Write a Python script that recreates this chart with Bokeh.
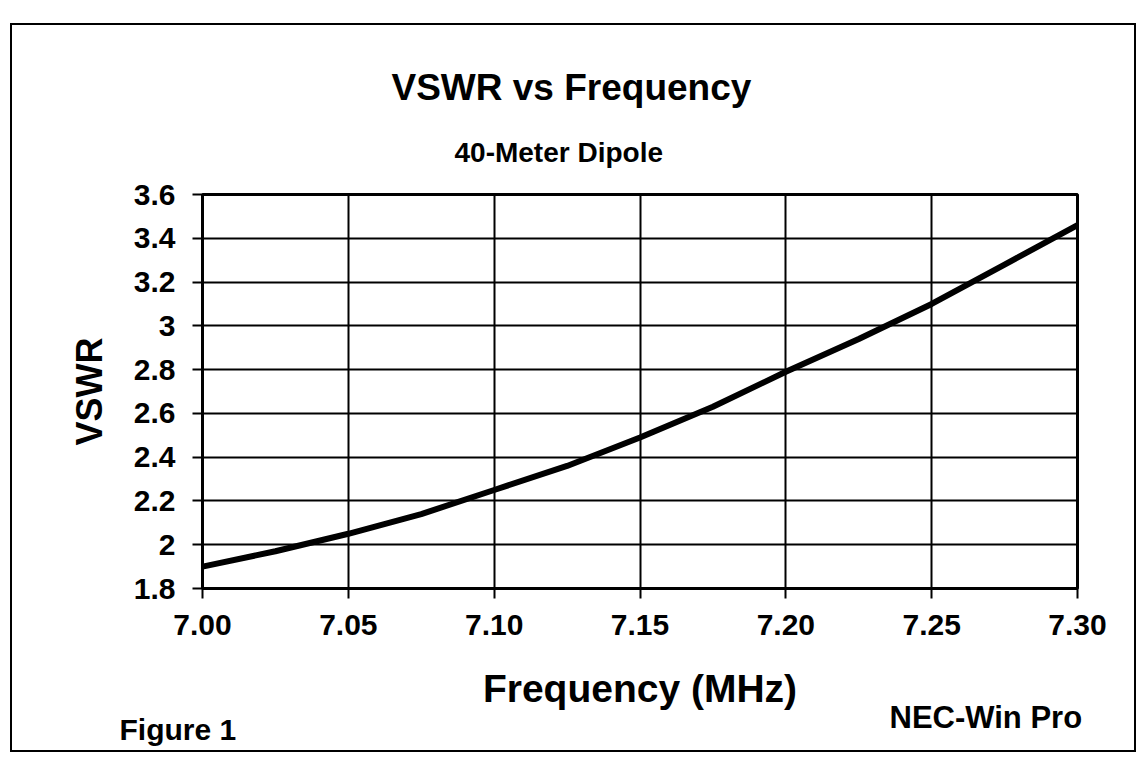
from bokeh.plotting import figure
from bokeh.models import Range1d, FixedTicker, Title
from bokeh.embed import file_html
from bokeh.resources import INLINE

# ---- data ----
freq_mhz = [7.000, 7.025, 7.050, 7.075, 7.100, 7.125, 7.150, 7.175, 7.200, 7.225, 7.250, 7.275, 7.300]
vswr = [1.90, 1.97, 2.05, 2.14, 2.25, 2.36, 2.49, 2.63, 2.79, 2.94, 3.10, 3.28, 3.46]

x_ticks = [7.00, 7.05, 7.10, 7.15, 7.20, 7.25, 7.30]
x_tick_labels = ["7.00", "7.05", "7.10", "7.15", "7.20", "7.25", "7.30"]
y_ticks = [1.8, 2.0, 2.2, 2.4, 2.6, 2.8, 3.0, 3.2, 3.4, 3.6]
y_tick_labels = ["1.8", "2", "2.2", "2.4", "2.6", "2.8", "3", "3.2", "3.4", "3.6"]

title_text = "VSWR vs Frequency"
subtitle_text = "40-Meter Dipole"
x_label = "Frequency (MHz)"
y_label = "VSWR"
note_right = "NEC-Win Pro"
note_left = "Figure 1"

# ---- layout ----
W, H = 1126, 729
FL, FR, FT, FB = 190, 1065, 169, 563  # frame edges in canvas px
FONT = "Liberation Sans"

p = figure(width=W, height=H, output_backend="svg", toolbar_location=None,
           x_range=Range1d(7.0, 7.3), y_range=Range1d(1.8, 3.6),
           min_border_left=FL, min_border_right=W - FR,
           min_border_top=FT, min_border_bottom=H - FB)
p.styles = {"border": "2px solid black", "margin-left": "10px", "margin-top": "23px"}
p.background_fill_color = "white"
p.border_fill_color = "white"
p.outline_line_color = "black"
p.outline_line_width = 3

# axes
p.xaxis.ticker = FixedTicker(ticks=x_ticks)
p.yaxis.ticker = FixedTicker(ticks=y_ticks)
p.xaxis.major_label_overrides = dict(zip(x_ticks, x_tick_labels))
p.yaxis.major_label_overrides = dict(zip(y_ticks, y_tick_labels))
for ax in (p.xaxis, p.yaxis):
    ax.axis_line_color = "black"
    ax.axis_line_width = 2
    ax.major_tick_line_color = "black"
    ax.major_tick_line_width = 2
    ax.major_tick_in = 0
    ax.major_tick_out = 10
    ax.minor_tick_line_color = None
    ax.major_label_text_font = FONT
    ax.major_label_text_font_style = "bold"
    ax.major_label_text_font_size = "30px"
    ax.major_label_text_color = "black"
    ax.axis_label_text_font = FONT
    ax.axis_label_text_font_style = "bold"
    ax.axis_label_text_color = "black"
p.xaxis.major_label_standoff = 16
p.yaxis.major_label_standoff = 17
p.xaxis.axis_label = x_label
p.xaxis.axis_label_text_font_size = "39px"
p.xaxis.axis_label_standoff = 29
p.yaxis.axis_label = y_label
p.yaxis.axis_label_text_font_size = "36px"
p.yaxis.axis_label_standoff = 21

p.grid.grid_line_color = "black"
p.grid.grid_line_width = 2
p.grid.grid_line_alpha = 1.0

# curve
p.line(freq_mhz, vswr, line_color="black", line_width=6)

def make_title(text, size, offset, standoff):
    return Title(text=text, align="left", offset=offset, standoff=standoff,
                 text_font=FONT, text_font_style="bold", text_font_size=size,
                 text_color="black")

# above: first added sits nearest the frame
p.add_layout(make_title(subtitle_text, "28px", 252, 54), "above")
p.add_layout(make_title(title_text, "37px", 189, 0), "above")
# below
p.add_layout(make_title(note_right, "31px", 687, -30), "below")
p.add_layout(make_title(note_left, "30px", -83, -18), "below")

open("out.html", "w").write(file_html(p, INLINE))
